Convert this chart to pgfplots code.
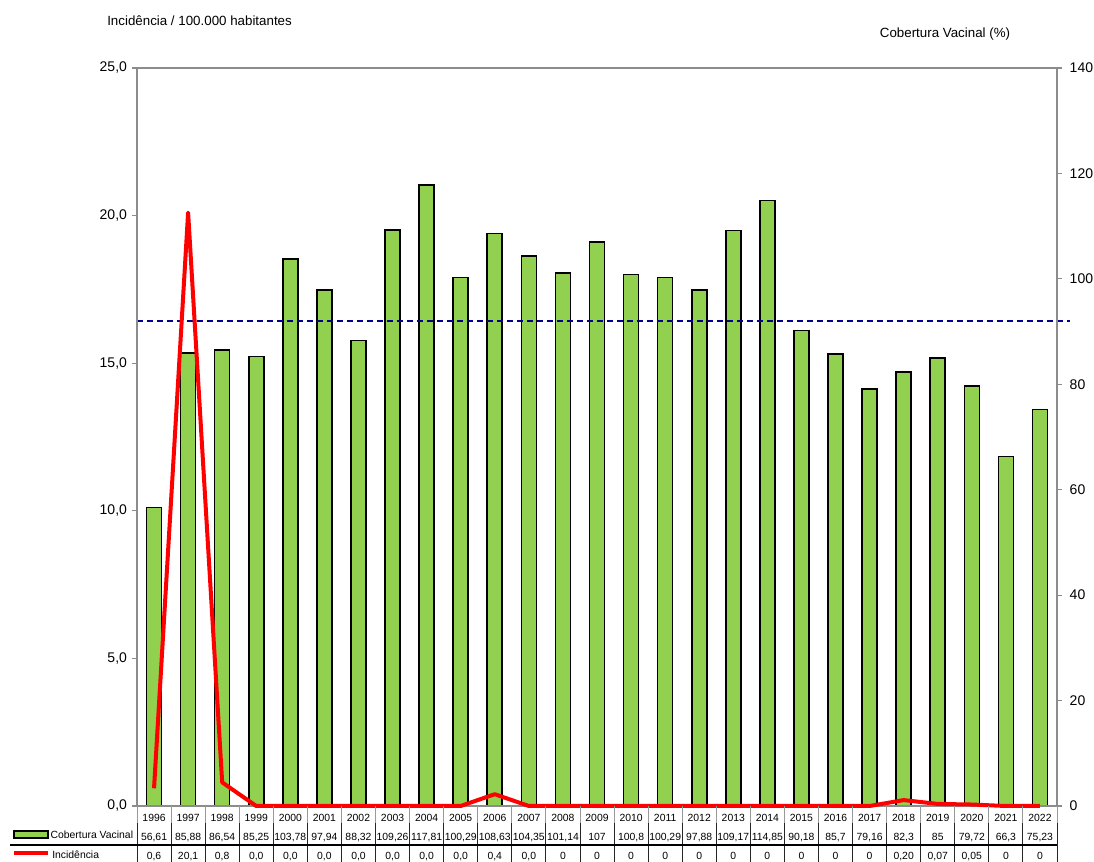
\documentclass[border=0pt]{standalone}
\usepackage{fontspec}
\setmainfont{Liberation Sans}
\usepackage{pgfplots}
\pgfplotsset{compat=1.18}
\definecolor{barg}{RGB}{146,208,80}
\definecolor{axgray}{RGB}{140,140,140}
\definecolor{navyd}{RGB}{0,0,140}
\begin{document}
\begin{tikzpicture}
\path[use as bounding box] (-102.75pt,-42pt) rectangle (717.75pt,604.5pt);
% right axis: vaccination coverage (bars)
\begin{axis}[at={(0,0)}, anchor=south west, scale only axis,
  width=690pt, height=553.5pt,
  xmin=-0.5, xmax=26.5, ymin=0, ymax=140,
  hide x axis, axis y line*=right,
  axis line style={axgray, line width=1pt},
  ytick={0,20,...,140}, tick align=outside, major tick length=4pt,
  tick style={axgray, line width=0.8pt},
  yticklabel style={font=\fontsize{10.5}{12}\selectfont, xshift=2pt},
  /pgf/number format/assume math mode=true,
  clip=false]
\addplot[ybar, bar width=11.25pt, fill=barg, draw=black, line width=1.2pt] coordinates {
(0,56.61) (1,85.88) (2,86.54) (3,85.25) (4,103.78) (5,97.94) (6,88.32) (7,109.26) (8,117.81)
(9,100.29) (10,108.63) (11,104.35) (12,101.14) (13,107) (14,100.8) (15,100.29) (16,97.88)
(17,109.17) (18,114.85) (19,90.18) (20,85.7) (21,79.16) (22,82.3) (23,85) (24,79.72) (25,66.3) (26,75.23)};
\addplot[navyd, line width=1pt, dash pattern=on 4.5pt off 3pt] coordinates {(-0.5,92) (26.88,92)};
\end{axis}
% left axis: incidence (line) + table
\begin{axis}[at={(0,0)}, anchor=south west, scale only axis,
  width=690pt, height=553.5pt,
  xmin=-0.5, xmax=26.5, ymin=0, ymax=25,
  axis line style={axgray, line width=1pt},
  ytick={0,5,...,25}, ytick pos=left, tick align=outside, major tick length=4pt,
  tick style={axgray, line width=0.8pt},
  yticklabel style={font=\fontsize{10.5}{12}\selectfont,
    /pgf/number format/.cd, fixed, fixed zerofill, precision=1, use comma},
  /pgf/number format/assume math mode=true,
  xtick={0,...,26}, x tick style={draw=none}, xtick pos=bottom,
  xticklabel style={font=\fontsize{7.8}{14.25}\selectfont, align=center, inner sep=0pt, yshift=-2pt},
  xticklabels={
  {1996\\56,61\\0,6},{1997\\85,88\\20,1},{1998\\86,54\\0,8},{1999\\85,25\\0,0},{2000\\103,78\\0,0},
  {2001\\97,94\\0,0},{2002\\88,32\\0,0},{2003\\109,26\\0,0},{2004\\117,81\\0,0},{2005\\100,29\\0,0},
  {2006\\108,63\\0,4},{2007\\104,35\\0,0},{2008\\101,14\\0},{2009\\107\\0},{2010\\100,8\\0},
  {2011\\100,29\\0},{2012\\97,88\\0},{2013\\109,17\\0},{2014\\114,85\\0},{2015\\90,18\\0},
  {2016\\85,7\\0},{2017\\79,16\\0},{2018\\82,3\\0,20},{2019\\85\\0,07},{2020\\79,72\\0,05},
  {2021\\66,3\\0},{2022\\75,23\\0}},
  clip=false]
\addplot[red, line width=3pt, line join=round] coordinates {
(0,0.6) (1,20.1) (2,0.8) (3,0) (4,0) (5,0) (6,0) (7,0) (8,0) (9,0) (10,0.4) (11,0) (12,0) (13,0)
(14,0) (15,0) (16,0) (17,0) (18,0) (19,0) (20,0) (21,0) (22,0.2) (23,0.07) (24,0.05) (25,0) (26,0)};
\pgfplotsinvokeforeach{-0.5,0.5,...,26.5}{
  \draw[black!40, line width=0.7pt] (axis cs:#1,0) -- ([yshift=-13pt]axis cs:#1,0);
  \draw[black!85, line width=0.7pt] ([yshift=-13pt]axis cs:#1,0) -- ([yshift=-42pt]axis cs:#1,0);
}
\end{axis}
% table horizontal rule
\draw[black, line width=0.8pt] (-95.25pt,-29.25pt) -- (690pt,-29.25pt);
% legend keys
\draw[black, fill=barg, line width=1pt] (-92.25pt,-18.75pt) rectangle (-66.75pt,-24pt);
\node[anchor=west, inner sep=0pt, font=\fontsize{7.8}{9}\selectfont] at (-65pt,-21.5pt) {Cobertura Vacinal};
\draw[red, line width=3pt] (-92.25pt,-35.5pt) -- (-66.75pt,-35.5pt);
\node[anchor=west, inner sep=0pt, font=\fontsize{7.8}{9}\selectfont] at (-63.75pt,-36.5pt) {Incidência};
% titles
\node[anchor=west, inner sep=0pt, font=\fontsize{10}{12}\selectfont] at (-22.5pt,589pt) {Incidência / 100.000 habitantes};
\node[anchor=east, inner sep=0pt, font=\fontsize{10}{12}\selectfont] at (655pt,579pt) {Cobertura Vacinal (\%)};
\end{tikzpicture}
\end{document}
